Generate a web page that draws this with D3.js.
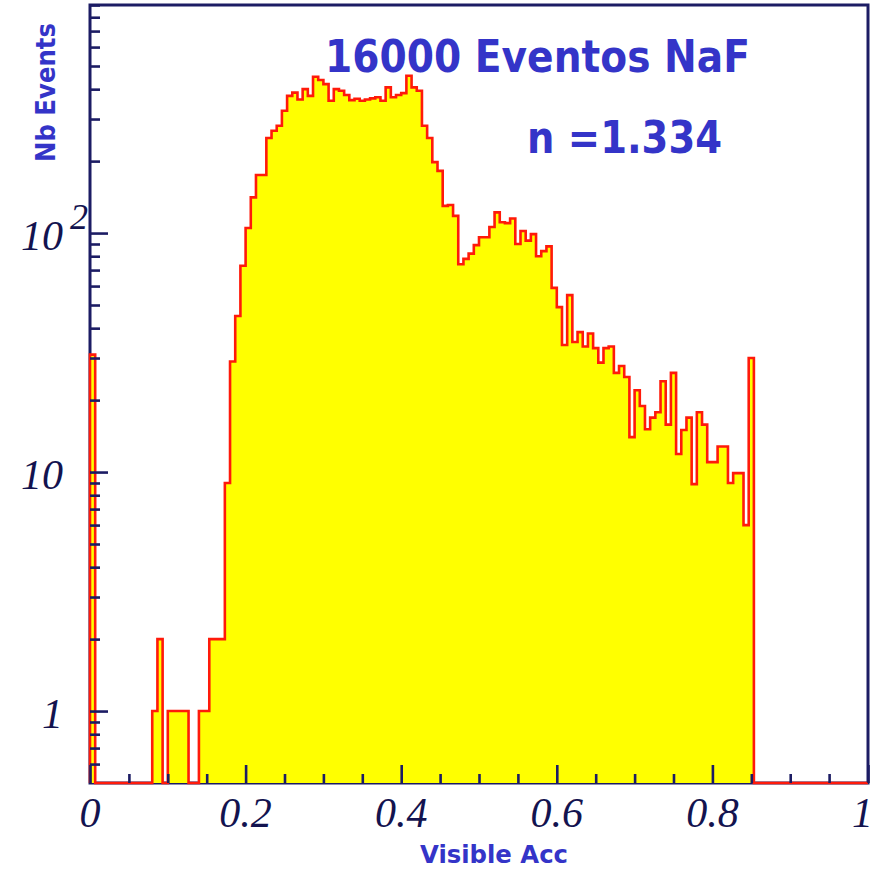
<!DOCTYPE html>
<html><head><meta charset="utf-8">
<script src="https://cdn.jsdelivr.net/npm/d3@7"></script>
<style>html,body{margin:0;padding:0;background:#fff;} svg{display:block;}</style>
</head><body>
<svg id="c" width="876" height="870"></svg>
<script>
// ---- data ----
const nBins = 150;
const xLow = 0, xHigh = 1;
const counts = [
  31, 0, 0, 0, 0, 0, 0, 0, 0, 0,
  0, 0, 1, 2, 0, 1, 1, 1, 1, 0,
  0, 1, 1, 2, 2, 2, 9, 29, 45, 73,
  105, 141, 175, 175, 250, 268, 281, 325, 375, 387,
  362, 400, 375, 451, 437, 420, 358, 400, 394, 378,
  360, 365, 358, 362, 366, 370, 358, 407, 370, 378,
  385, 455, 407, 394, 281, 250, 198, 182, 130, 131,
  118, 74, 78, 82, 89, 96, 96, 106, 122, 111,
  110, 115, 90, 102, 93, 99, 80, 84, 88, 59,
  49, 34, 55, 35, 38.5, 33.5, 38, 33, 28.7, 33,
  33.5, 26, 27.8, 25, 14, 22, 18.9, 15.1, 16.9, 17.8,
  24, 15.8, 26, 11.9, 15, 16.9, 8.9, 17.8, 15.8, 11,
  11, 12.8, 12.8, 9, 9.9, 9.9, 6, 30, 0, 0,
  0, 0, 0, 0, 0, 0, 0, 0, 0, 0,
  0, 0, 0, 0, 0, 0, 0, 0, 0, 0
];
const xMajorTicks = [0, 0.2, 0.4, 0.6, 0.8, 1];
const xMajorLabels = ["0", "0.2", "0.4", "0.6", "0.8", "1"];
const xMinorTicks = [0.05, 0.1, 0.15, 0.25, 0.3, 0.35, 0.45, 0.5, 0.55, 0.65, 0.7, 0.75, 0.85, 0.9, 0.95];
const yMajorTicks = [1, 10, 100];
const yLabelBase = ["1", "10", "10"];
const yLabelExp = ["", "", "2"];
const yMinorTicks = [0.6, 0.7, 0.8, 0.9, 2, 3, 4, 5, 6, 7, 8, 9, 20, 30, 40, 50, 60, 70, 80, 90, 200, 300, 400, 500, 600, 700, 800, 900];
const yMin = 0.5, yMax = 900;
const titleLines = ["16000 Eventos NaF", "n =1.334"];
const xTitle = "Visible Acc";
const yTitle = "Nb Events";

// ---- drawing ----
const navy = "#1c1c64";
const labelCol = "#13134f";
const blue = "#3434c8";
const svg = d3.select("#c");
const x = d3.scaleLinear().domain([xLow, xHigh]).range([90, 868]);
const y = d3.scaleLog().domain([yMin, yMax]).range([783, 5]);

// frame
svg.append("rect")
  .attr("x", x(xLow)).attr("y", y(yMax))
  .attr("width", x(xHigh) - x(xLow)).attr("height", y(yMin) - y(yMax))
  .attr("fill", "none").attr("stroke", navy).attr("stroke-width", 3);

// histogram
const w = (xHigh - xLow) / nBins;
const pts = [[xLow, yMin]];
counts.forEach((c, i) => {
  const v = Math.max(c, yMin);
  pts.push([xLow + i * w, v], [xLow + (i + 1) * w, v]);
});
pts.push([xHigh, yMin]);
const line = d3.line().x(d => x(d[0])).y(d => y(Math.max(d[1], yMin)));
svg.append("path")
  .attr("d", line(pts))
  .attr("fill", "#ffff00")
  .attr("stroke", "#ff1a0a")
  .attr("stroke-width", 2.6)
  .attr("stroke-linejoin", "miter");

// axes ticks
function styleAxis(g) {
  g.select(".domain").remove();
  g.selectAll(".tick line").attr("stroke", navy).attr("stroke-width", 2.6);
  g.selectAll(".tick text").remove();
}
svg.append("g").attr("transform", `translate(0,${y(yMin)})`)
  .call(d3.axisBottom(x).tickValues(xMajorTicks).tickSize(-18)).call(styleAxis);
svg.append("g").attr("transform", `translate(0,${y(yMin)})`)
  .call(d3.axisBottom(x).tickValues(xMinorTicks).tickSize(-9)).call(styleAxis);
svg.append("g").attr("transform", `translate(${x(xLow)},0)`)
  .call(d3.axisLeft(y).tickValues(yMajorTicks).tickSize(-18)).call(styleAxis);
svg.append("g").attr("transform", `translate(${x(xLow)},0)`)
  .call(d3.axisLeft(y).tickValues(yMinorTicks).tickSize(-10)).call(styleAxis);

// x tick labels
svg.append("g").selectAll("text").data(xMajorTicks).join("text")
  .attr("x", d => d === xHigh ? 873 : x(d)).attr("y", 827)
  .attr("text-anchor", d => d === xHigh ? "end" : "middle")
  .attr("font-family", "'Liberation Serif', 'DejaVu Serif', serif")
  .attr("font-style", "italic").attr("font-size", 42)
  .attr("fill", labelCol)
  .text((d, i) => xMajorLabels[i]);

// y tick labels
const yl = svg.append("g").selectAll("g").data(yMajorTicks).join("g");
yl.append("text")
  .attr("x", 63).attr("y", d => y(d) + 16.5)
  .attr("text-anchor", "end")
  .attr("font-family", "'Liberation Serif', 'DejaVu Serif', serif")
  .attr("font-style", "italic").attr("font-size", 42)
  .attr("fill", labelCol)
  .text((d, i) => yLabelBase[i]);
yl.append("text")
  .attr("x", 70).attr("y", d => y(d) - 4)
  .attr("text-anchor", "start")
  .attr("font-family", "'Liberation Serif', 'DejaVu Serif', serif")
  .attr("font-style", "italic").attr("font-size", 36)
  .attr("fill", labelCol)
  .text((d, i) => yLabelExp[i]);

// titles
const tfont = "'DejaVu Sans', sans-serif";
svg.append("text").attr("x", 325).attr("y", 72)
  .attr("font-family", tfont).attr("font-weight", "bold").attr("font-size", 44)
  .attr("fill", blue).attr("textLength", 425).attr("lengthAdjust", "spacingAndGlyphs")
  .text(titleLines[0]);
svg.append("text").attr("x", 527).attr("y", 153)
  .attr("font-family", tfont).attr("font-weight", "bold").attr("font-size", 44)
  .attr("fill", blue).attr("textLength", 195).attr("lengthAdjust", "spacingAndGlyphs")
  .text(titleLines[1]);
svg.append("text").attr("x", 420).attr("y", 863)
  .attr("font-family", tfont).attr("font-weight", "bold").attr("font-size", 25)
  .attr("fill", blue).attr("textLength", 148).attr("lengthAdjust", "spacingAndGlyphs")
  .text(xTitle);
svg.append("text").attr("transform", "translate(54.5,162) rotate(-90)")
  .attr("font-family", tfont).attr("font-weight", "bold").attr("font-size", 27)
  .attr("fill", blue).attr("textLength", 139).attr("lengthAdjust", "spacingAndGlyphs")
  .text(yTitle);
</script>
</body></html>
